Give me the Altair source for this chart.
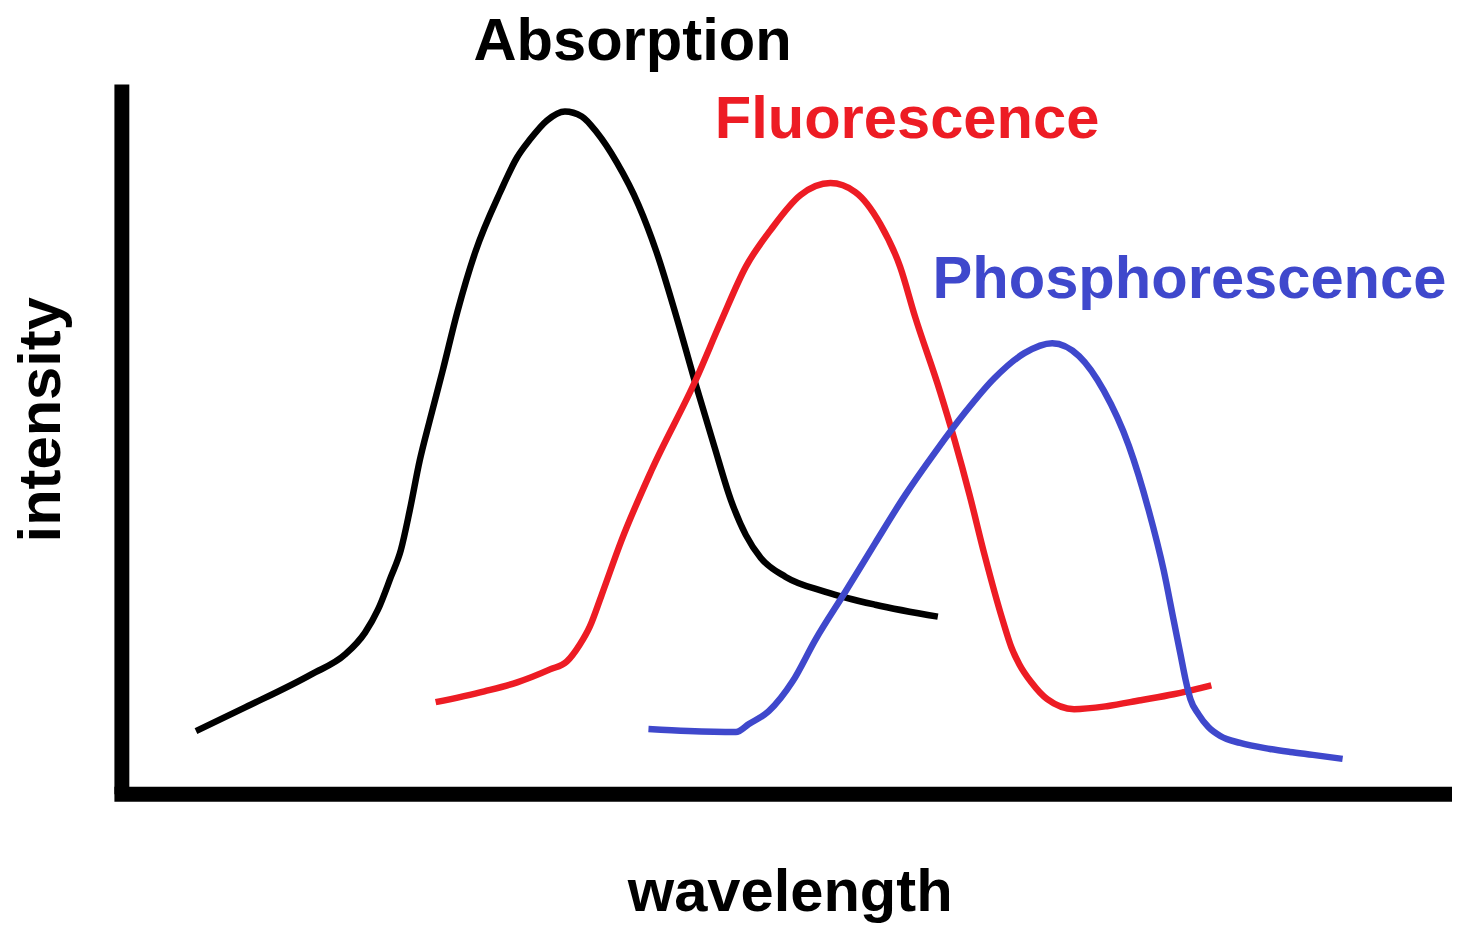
import altair as alt
import pandas as pd

# Values in arbitrary units (wavelength 0-1338, intensity 0-713)
abs_x = [75, 125, 191, 225, 245, 258, 271, 281, 290, 300, 310, 323, 338, 356, 381, 398, 411, 428, 446, 463, 478, 498, 520, 538, 558, 578, 596, 613, 628, 643, 668, 708, 758, 821]
abs_y = [63, 87, 120, 140, 162, 185, 218, 245, 285, 335, 375, 425, 485, 545, 605, 640, 658, 677, 686, 681, 665, 635, 592, 545, 480, 410, 350, 295, 260, 237, 218, 203, 190, 178]

flu_x = [316, 365, 398, 431, 448, 461, 471, 483, 503, 533, 578, 603, 628, 653, 683, 713, 738, 763, 783, 798, 823, 838, 853, 868, 886, 895, 903, 915, 931, 958, 991, 1025, 1058, 1096]
flu_y = [92, 103, 112, 125, 133, 150, 168, 200, 255, 325, 417, 475, 530, 567, 602, 614, 605, 573, 530, 480, 405, 355, 300, 240, 175, 147, 130, 112, 95, 85, 88, 94, 100, 109]

pho_x = [530, 570, 618, 631, 651, 675, 698, 728, 758, 788, 818, 848, 878, 908, 936, 963, 988, 1013, 1033, 1048, 1058, 1065, 1070, 1075, 1083, 1093, 1105, 1125, 1155, 1175, 1198, 1228]
pho_y = [65, 63, 62, 70, 83, 113, 155, 203, 252, 300, 343, 383, 418, 443, 453, 440, 405, 350, 285, 225, 175, 140, 115, 95, 80, 67, 58, 51, 45, 42, 39, 35]

series_names = ["Absorption", "Fluorescence", "Phosphorescence"]
series_colors = ["#000000", "#ED1C24", "#3F48CC"]

# label anchor positions (same units)
label_x = [514, 790, 1074]
label_y = [738, 659, 498]

rows = []
for name, xs, ys in zip(series_names, [abs_x, flu_x, pho_x], [abs_y, flu_y, pho_y]):
    for i, (x, y) in enumerate(zip(xs, ys)):
        rows.append({"series": name, "wavelength": x, "intensity": y, "i": i})
df = pd.DataFrame(rows)
labels = pd.DataFrame({"series": series_names, "wavelength": label_x, "intensity": label_y})

FONT = "Liberation Sans"

xscale = alt.Scale(domain=[0, 1338], nice=False, zero=False)
yscale = alt.Scale(domain=[0, 713.5], nice=False, zero=False)
cscale = alt.Scale(domain=series_names, range=series_colors)

lines = alt.Chart(df).mark_line(strokeWidth=6.5, interpolate="monotone", clip=False).encode(
    x=alt.X("wavelength:Q", scale=xscale,
            axis=alt.Axis(title="wavelength", labels=False, ticks=False, grid=False,
                          domainColor="black", domainWidth=15, domainCap="square",
                          titleFont=FONT, titleFontSize=60, titleFontWeight="bold",
                          titleColor="black", titleX=672, titleY=117,
                          titleAlign="center", titleBaseline="alphabetic")),
    y=alt.Y("intensity:Q", scale=yscale,
            axis=alt.Axis(title="intensity", labels=False, ticks=False, grid=False,
                          domainColor="black", domainWidth=15, domainCap="butt",
                          titleFont=FONT, titleFontSize=60, titleFontWeight="bold",
                          titleColor="black", titleX=-62, titleY=337, titleAngle=270,
                          titleAlign="center", titleBaseline="alphabetic")),
    color=alt.Color("series:N", scale=cscale, legend=None),
    order=alt.Order("i:Q"),
)

texts = alt.Chart(labels).mark_text(font=FONT, fontSize=60, fontWeight="bold",
                                    align="center", baseline="alphabetic", clip=False).encode(
    x=alt.X("wavelength:Q", scale=xscale),
    y=alt.Y("intensity:Q", scale=yscale),
    text="series:N",
    color=alt.Color("series:N", scale=cscale, legend=None),
)

chart = (lines + texts).properties(
    width=1338, height=713.5,
    padding={"left": 114, "top": 74, "right": 0, "bottom": 132},
    autosize=alt.AutoSizeParams(type="none"),
    background="white",
).configure_view(stroke=None)

chart.save("out.html", embed_options={"renderer": "svg", "actions": False})
